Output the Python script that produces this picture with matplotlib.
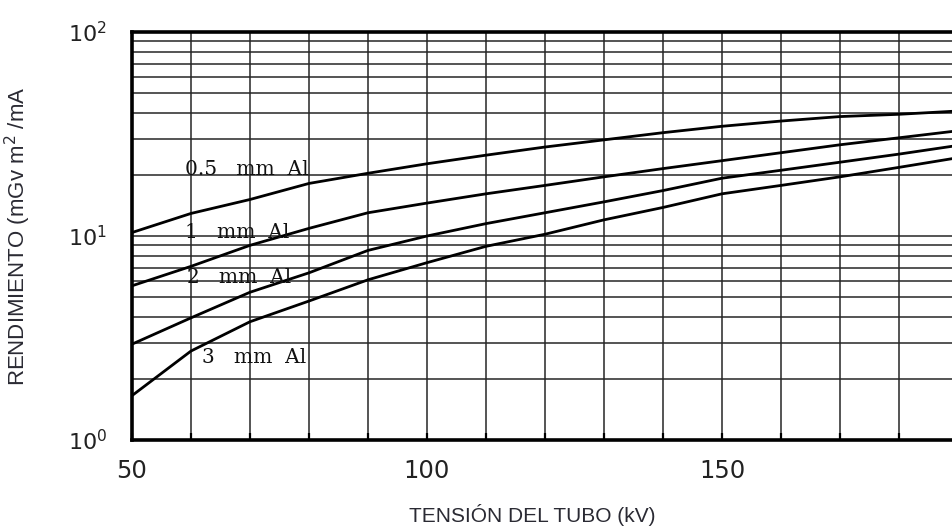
import matplotlib
matplotlib.use("Agg")
import matplotlib.pyplot as plt
from matplotlib.ticker import MultipleLocator, LogLocator, FixedLocator, NullFormatter

plt.rcParams['font.family'] = ['DejaVu Sans']

kv = [50, 60, 70, 80, 90, 100, 110, 120, 130, 140, 150, 160, 170, 180, 190]
al_05 = [10.4, 12.9, 15.1, 18.1, 20.3, 22.6, 24.9, 27.3, 29.6, 32.1, 34.5, 36.6, 38.5, 39.5, 41.0]
al_1 = [5.7, 7.1, 9.0, 10.9, 13.0, 14.5, 16.1, 17.7, 19.5, 21.4, 23.4, 25.6, 28.0, 30.3, 32.8]
al_2 = [2.95, 3.97, 5.3, 6.6, 8.5, 10.0, 11.5, 13.0, 14.7, 16.7, 19.2, 21.0, 23.0, 25.2, 27.8]
al_3 = [1.65, 2.73, 3.80, 4.8, 6.1, 7.4, 8.9, 10.2, 12.0, 13.8, 16.1, 17.7, 19.5, 21.7, 24.2]

series = [al_05, al_1, al_2, al_3]
labels = ["0.5   mm  Al", "1   mm  Al", "2   mm  Al", "3   mm  Al"]
label_pos = [(59.0, 21.3), (59.0, 10.46), (59.3, 6.26), (61.9, 2.55)]

x_ticks = [50, 100, 150, 200]
x_tick_labels = ["50", "100", "150", ""]

W, H = 952, 527
fig = plt.figure(figsize=(W / 100, H / 100), dpi=100)
# axes extends past the right edge (figure is cropped like the reference)
ax = fig.add_axes([132 / W, (H - 440) / H, 885 / W, 408 / H])
ax.set_yscale('log')
ax.set_xlim(50, 200)
ax.set_ylim(1, 100)

ax.xaxis.set_major_locator(FixedLocator(x_ticks))
ax.set_xticklabels(x_tick_labels)
ax.xaxis.set_minor_locator(MultipleLocator(10))
ax.yaxis.set_major_locator(LogLocator(base=10))
ax.yaxis.set_minor_locator(LogLocator(base=10, subs=range(2, 10)))
ax.yaxis.set_minor_formatter(NullFormatter())

ax.grid(True, which='both', axis='both', color='#262626', linewidth=1.1)
ax.set_axisbelow(True)

for vals in series:
    ax.plot(kv, vals, color='black', linewidth=2.0, solid_capstyle='round')

for txt, (x, y) in zip(labels, label_pos):
    ax.text(x, y, txt, family='DejaVu Serif', fontsize=14.5, va='center', ha='left',
            color='#111111')

for s in ax.spines.values():
    s.set_linewidth(2.6)
    s.set_color('black')

ax.tick_params(axis='x', which='both', direction='in', length=5, width=1.6,
               labelsize=17.5, pad=14, labelcolor='#222222')
ax.tick_params(axis='y', which='both', length=0, labelsize=16, pad=18,
               labelcolor='#222222')

ax.set_ylabel("RENDIMIENTO (mGv m$^2$ /mA", family='Liberation Sans', fontsize=16,
              color='#2a2a33')
ax.yaxis.set_label_coords(-(132 - 33) / 885, 0.5)
fig.text(532 / W, 1 - 515 / H, "TENSIÓN DEL TUBO (kV)", family='Liberation Sans',
         fontsize=15, color='#2a2a33', ha='center', va='center')

fig.savefig("out.png", dpi=100)
